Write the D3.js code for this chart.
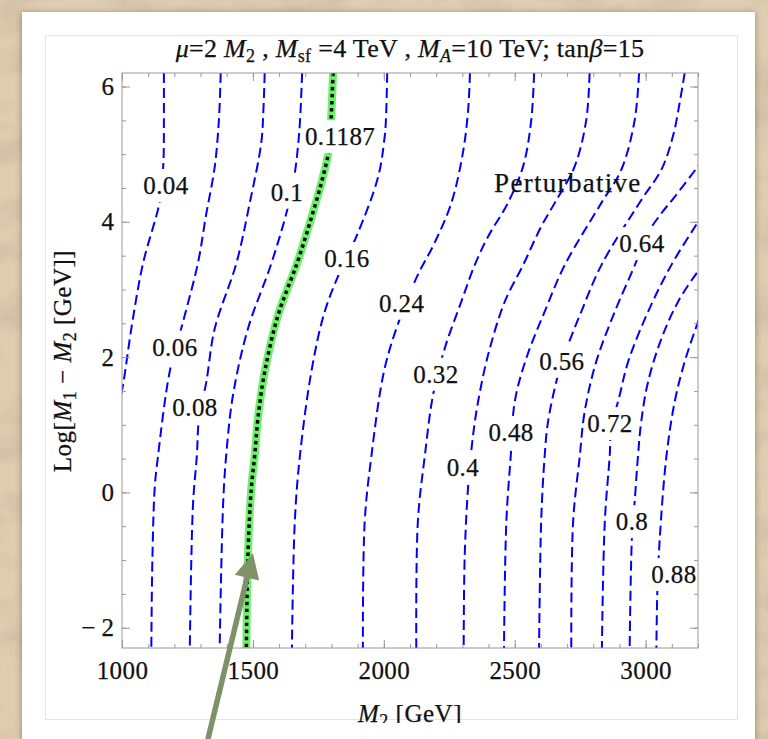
<!DOCTYPE html>
<meta charset="utf-8">
<script src="https://d3js.org/d3.v7.min.js"></script>
<style>
  body { margin: 0; background: #dccab0; overflow: hidden; }
  svg { display: block; }
  text { font-family: "Liberation Serif", "Times New Roman", serif; fill: #111; white-space: pre;
         stroke: #111; stroke-width: 0.25px; }
</style>
<div id="chart"></div>
<script>

// axes
var xDomain = [1000, 3200];
var yDomain = [-2.3, 6.2];
var xMajor = [1000, 1500, 2000, 2500, 3000];
var yMajor = [-2, 0, 2, 4, 6];

// contour lines: [M2, Log(M1-M2)]
var c004 = [[1160,6.2],[1160,5.5],[1158,4.87],[1145,4.32],[1080,3.38],[1038,2.48],[1004,1.59],[985,1.22]];
var c006 = [[1377,6.2],[1370,5.5],[1354,4.81],[1321,4.1],[1290,3.39],[1226,2.42],[1182,1.78],[1137,0.52],[1125,0.07],[1116,-1.0],[1112,-2.3]];
var c008 = [[1545,6.2],[1540,5.65],[1532,5.17],[1488,4.28],[1437,3.39],[1354,2.42],[1322,1.63],[1294,1.09],[1286,0.55],[1271,-0.19],[1259,-2.3]];
var c010 = [[1688,6.2],[1680,5.5],[1672,5.11],[1660,4.72],[1634,4.22],[1570,3.38],[1481,2.42],[1424,1.44],[1398,0.55],[1386,-0.19],[1373,-2.3]];
var c01187 = [[1806,6.2],[1799,5.55],[1790,5.06],[1761,4.57],[1717,3.98],[1668,3.38],[1596,2.62],[1545,1.78],[1519,1.09],[1507,0.55],[1494,0.07],[1481,-0.93],[1475,-2.3]];
var c016 = [[2013,6.2],[2008,5.5],[2003,5.25],[1978,4.66],[1895,3.78],[1838,3.31],[1774,2.67],[1723,1.78],[1679,0.52],[1660,-0.43],[1649,-2.3]];
var c024 = [[2329,6.2],[2322,5.65],[2302,5.02],[2258,4.28],[2194,3.69],[2128,3.2],[2066,2.62],[2003,1.83],[1952,0.52],[1927,-0.43],[1920,-2.3]];
var c032 = [[2574,6.2],[2563,5.5],[2532,4.82],[2474,4.28],[2398,3.78],[2347,3.36],[2296,2.82],[2232,2.12],[2188,1.44],[2156,0.52],[2130,-0.43],[2124,-2.3]];
var c040 = [[2786,6.2],[2773,5.5],[2729,4.82],[2653,4.28],[2601,3.93],[2532,3.36],[2462,2.82],[2398,2.03],[2360,1.34],[2342,0.88],[2323,0.14],[2309,-0.93],[2305,-2.3]];
var c048 = [[2975,6.2],[2958,5.5],[2907,4.77],[2831,4.28],[2691,3.36],[2614,2.67],[2544,1.98],[2500,1.34],[2485,0.55],[2468,-0.43],[2459,-2.3]];
var c056 = [[3149,6.2],[3130,5.76],[3104,5.26],[3060,4.77],[2983,4.32],[2831,3.36],[2754,2.67],[2696,2.1],[2665,1.73],[2627,1.04],[2614,0.52],[2601,-0.43],[2593,-2.3]];
var c064 = [[3223,4.94],[3200,4.82],[3111,4.37],[3055,4.1],[2997,3.76],[2964,3.41],[2882,2.67],[2811,1.93],[2767,1.19],[2748,0.52],[2723,-0.43],[2716,-2.3]];
var c072 = [[3223,4.15],[3200,4.0],[3098,3.36],[3009,2.67],[2933,1.93],[2901,1.44],[2868,0.92],[2863,0.55],[2844,-0.43],[2833,-2.3]];
var c080 = [[3230,3.42],[3200,3.27],[3124,2.82],[3060,2.27],[3009,1.63],[2983,1.04],[2971,0.55],[2958,-0.14],[2948,-0.63],[2939,-2.3]];
var c088 = [[3223,2.76],[3200,2.52],[3149,1.93],[3111,1.34],[3079,0.52],[3054,-0.68],[3045,-1.42],[3041,-2.3]];

var blueLines = [c004, c006, c008, c010, c016, c024, c032, c040, c048, c056, c064, c072, c080, c088];
var greenLine = c01187;

// contour labels
var labelText = ["0.04","0.06","0.08","0.1","0.1187","0.16","0.24","0.32","0.4","0.48","0.56","0.64","0.72","0.8","0.88"];
var labelM2   = [1168, 1202, 1279, 1630, 1833, 1859, 2068, 2199, 2302, 2486, 2680, 2986, 2864, 2948, 3108];
var labelLog  = [4.53, 2.14, 1.25, 4.43, 5.25, 3.45, 2.79, 1.74, 0.36, 0.88, 1.93, 3.67, 1.01, -0.44, -1.22];

var regionText = "Perturbative";
var regionAt = [2703, 4.57];

// arrow annotation (tail lies below the plot)
var arrowTail = [1328, -3.65];
var arrowTip = [1500, -0.9];

var W = 768, H = 739;

var svg = d3.select("#chart").append("svg")
    .attr("width", W)
    .attr("height", H);
var defs = svg.append("defs");

// paper texture
var paper = defs.append("filter").attr("id", "paper")
    .attr("x", 0).attr("y", 0).attr("width", "100%").attr("height", "100%");
paper.append("feTurbulence").attr("type", "fractalNoise")
    .attr("baseFrequency", "0.02 0.03").attr("numOctaves", 4).attr("seed", 11);
paper.append("feColorMatrix").attr("type", "matrix")
    .attr("values", "0 0 0 0 0.55  0 0 0 0 0.45  0 0 0 0 0.32  1.2 0 0 0 -0.5");

var shadow = defs.append("filter").attr("id", "shadow")
    .attr("x", "-5%").attr("y", "-5%").attr("width", "110%").attr("height", "110%");
shadow.append("feDropShadow").attr("dx", 0).attr("dy", 1).attr("stdDeviation", 3)
    .attr("flood-color", "#4a3a20").attr("flood-opacity", 0.5);

defs.append("clipPath").attr("id", "plotclip").append("rect")
    .attr("x", 122).attr("y", 73).attr("width", 576).attr("height", 575);
defs.append("clipPath").attr("id", "graphclip").append("rect")
    .attr("x", 45).attr("y", 35).attr("width", 693).attr("height", 688);

svg.append("rect").attr("width", W).attr("height", H).attr("fill", "#dfcdb1");
svg.append("rect").attr("width", W).attr("height", H).attr("filter", "url(#paper)");

// card
svg.append("rect")
    .attr("x", 22).attr("y", 12).attr("width", 733).attr("height", 760)
    .attr("fill", "#ffffff").attr("filter", "url(#shadow)");
svg.append("rect")
    .attr("x", 45.5).attr("y", 35.5).attr("width", 692).attr("height", 684)
    .attr("fill", "#ffffff").attr("stroke", "#e4e4e4");

var x = d3.scaleLinear().domain(xDomain).range([122, 698]);
var y = d3.scaleLinear().domain(yDomain).range([648, 73]);

var line = d3.line()
    .x(function(d) { return x(d[0]); })
    .y(function(d) { return y(d[1]); })
    .curve(d3.curveCatmullRom.alpha(0.5));

var plot = svg.append("g").attr("clip-path", "url(#plotclip)");

plot.selectAll(".blue")
    .data(blueLines)
    .enter().append("path")
    .attr("class", "blue")
    .attr("d", line)
    .attr("fill", "none")
    .attr("stroke", "#0000ff")
    .attr("stroke-width", 2)
    .attr("stroke-dasharray", "10,5");

plot.append("path")
    .attr("d", line(greenLine))
    .attr("fill", "none")
    .attr("stroke", "#6cf26a")
    .attr("stroke-width", 8);
plot.append("path")
    .attr("d", line(greenLine))
    .attr("fill", "none")
    .attr("stroke", "#000")
    .attr("stroke-width", 3.5)
    .attr("stroke-dasharray", "3.5,3.5");

// contour labels with white boxes that break the lines
labelText.forEach(function(t, i) {
  var g = plot.append("g");
  var txt = g.append("text")
      .attr("x", x(labelM2[i]))
      .attr("y", y(labelLog[i]) + 8)
      .attr("text-anchor", "middle")
      .style("font-size", "25px")
      .style("letter-spacing", "0.4px")
      .text(t);
  var bb = txt.node().getBBox();
  g.insert("rect", "text")
      .attr("x", bb.x - 1).attr("y", bb.y - 3)
      .attr("width", bb.width + 2).attr("height", bb.height + 6)
      .attr("fill", "#fff")
      .style("stroke", "none");
});

plot.append("text")
    .attr("x", x(regionAt[0]))
    .attr("y", y(regionAt[1]) + 9)
    .attr("text-anchor", "middle")
    .style("font-size", "27px")
    .style("letter-spacing", "1.3px")
    .text(regionText);

// frame and ticks (inward, all four sides)
var tickColor = "#999";
function ticks(axis, tx, ty, vals, size) {
  var g = svg.append("g")
      .attr("transform", "translate(" + tx + "," + ty + ")")
      .call(axis.tickValues(vals).tickSize(size).tickFormat(""));
  g.select(".domain").remove();
  g.selectAll("line").attr("stroke", tickColor);
}
var xMinor = d3.range(1000, 3201, 100);
var yMinor = d3.range(-2, 6.01, 0.5);
ticks(d3.axisTop(x), 0, 648, xMinor, 4);
ticks(d3.axisTop(x), 0, 648, xMajor, 8);
ticks(d3.axisBottom(x), 0, 73, xMinor, 4);
ticks(d3.axisBottom(x), 0, 73, xMajor, 8);
ticks(d3.axisRight(y), 122, 0, yMinor, 4);
ticks(d3.axisRight(y), 122, 0, yMajor, 8);
ticks(d3.axisLeft(y), 698, 0, yMinor, 4);
ticks(d3.axisLeft(y), 698, 0, yMajor, 8);

svg.append("rect")
    .attr("x", 122).attr("y", 73).attr("width", 576).attr("height", 575)
    .attr("fill", "none").attr("stroke", tickColor);

// tick labels
var xl = svg.append("g")
    .attr("transform", "translate(0,648)")
    .call(d3.axisBottom(x).tickValues(xMajor).tickSize(0).tickPadding(13)
      .tickFormat(d3.format("d")));
xl.select(".domain").remove();
xl.selectAll("text").style("font-size", "25px").style("letter-spacing", "0.4px")
    .style("font-family", "Liberation Serif").attr("fill", "#111");

var yl = svg.append("g")
    .attr("transform", "translate(122,0)")
    .call(d3.axisLeft(y).tickValues(yMajor).tickSize(0).tickPadding(8)
      .tickFormat(function(d) { return d < 0 ? "\u2212 " + Math.abs(d) : d; }));
yl.select(".domain").remove();
yl.selectAll("text").style("font-size", "25px")
    .style("font-family", "Liberation Serif").attr("fill", "#111");

// rich text helper: parts are [string, style]
function rich(sel, parts, subSize, subShift) {
  var shift = 0;
  parts.forEach(function(p) {
    var t = sel.append("tspan").text(p[0]);
    var sub = p[1].indexOf("sub") >= 0;
    if (p[1].charAt(0) === "i") t.style("font-style", "italic");
    var target = sub ? subShift : 0;
    if (target !== shift) { t.attr("dy", target - shift); shift = target; }
    if (sub) t.style("font-size", subSize + "px");
  });
}

var graph = svg.append("g").attr("clip-path", "url(#graphclip)");

var title = graph.append("text")
    .attr("x", 410).attr("y", 57)
    .attr("text-anchor", "middle")
    .style("font-size", "26px")
    .style("letter-spacing", "0.3px");
rich(title, [["\u03bc","i"],["=2 ",""],["M","i"],["2","sub"],[" , ",""],["M","i"],["sf","sub"],
  [" =4 TeV , ",""],["M","i"],["A","isub"],["=10 TeV; tan",""],["\u03b2","i"],["=15",""]], 18, 5);

var ylab = graph.append("text")
    .attr("transform", "translate(71,361) rotate(-90)")
    .attr("text-anchor", "middle")
    .style("font-size", "25px")
    .style("letter-spacing", "0.5px");
rich(ylab, [["Log[",""],["M","i"],["1","sub"],[" \u2212 ",""],["M","i"],["2","sub"],[" [GeV]]",""]], 18, 5);

var xlab = graph.append("text")
    .attr("x", 410).attr("y", 722)
    .attr("text-anchor", "middle")
    .style("font-size", "25px")
    .style("letter-spacing", "0.5px");
rich(xlab, [["M","i"],["2","sub"],[" [GeV]",""]], 18, 5);

// arrow
var t0 = [x(arrowTail[0]), y(arrowTail[1])];
var t1 = [x(arrowTip[0]), y(arrowTip[1])];
var dx = t1[0] - t0[0], dy = t1[1] - t0[1];
var len = Math.sqrt(dx * dx + dy * dy);
var ux = dx / len, uy = dy / len;
var headLen = 25, headHalf = 12.5;
var base = [t1[0] - ux * headLen, t1[1] - uy * headLen];
svg.append("line")
    .attr("x1", t0[0]).attr("y1", t0[1])
    .attr("x2", base[0] + ux * 2).attr("y2", base[1] + uy * 2)
    .attr("stroke", "#7f9169").attr("stroke-width", 5.5);
svg.append("path")
    .attr("d", "M" + t1[0] + "," + t1[1] +
      "L" + (base[0] - uy * headHalf) + "," + (base[1] + ux * headHalf) +
      "L" + (base[0] + uy * headHalf) + "," + (base[1] - ux * headHalf) + "Z")
    .attr("fill", "#7f9169");

</script>
